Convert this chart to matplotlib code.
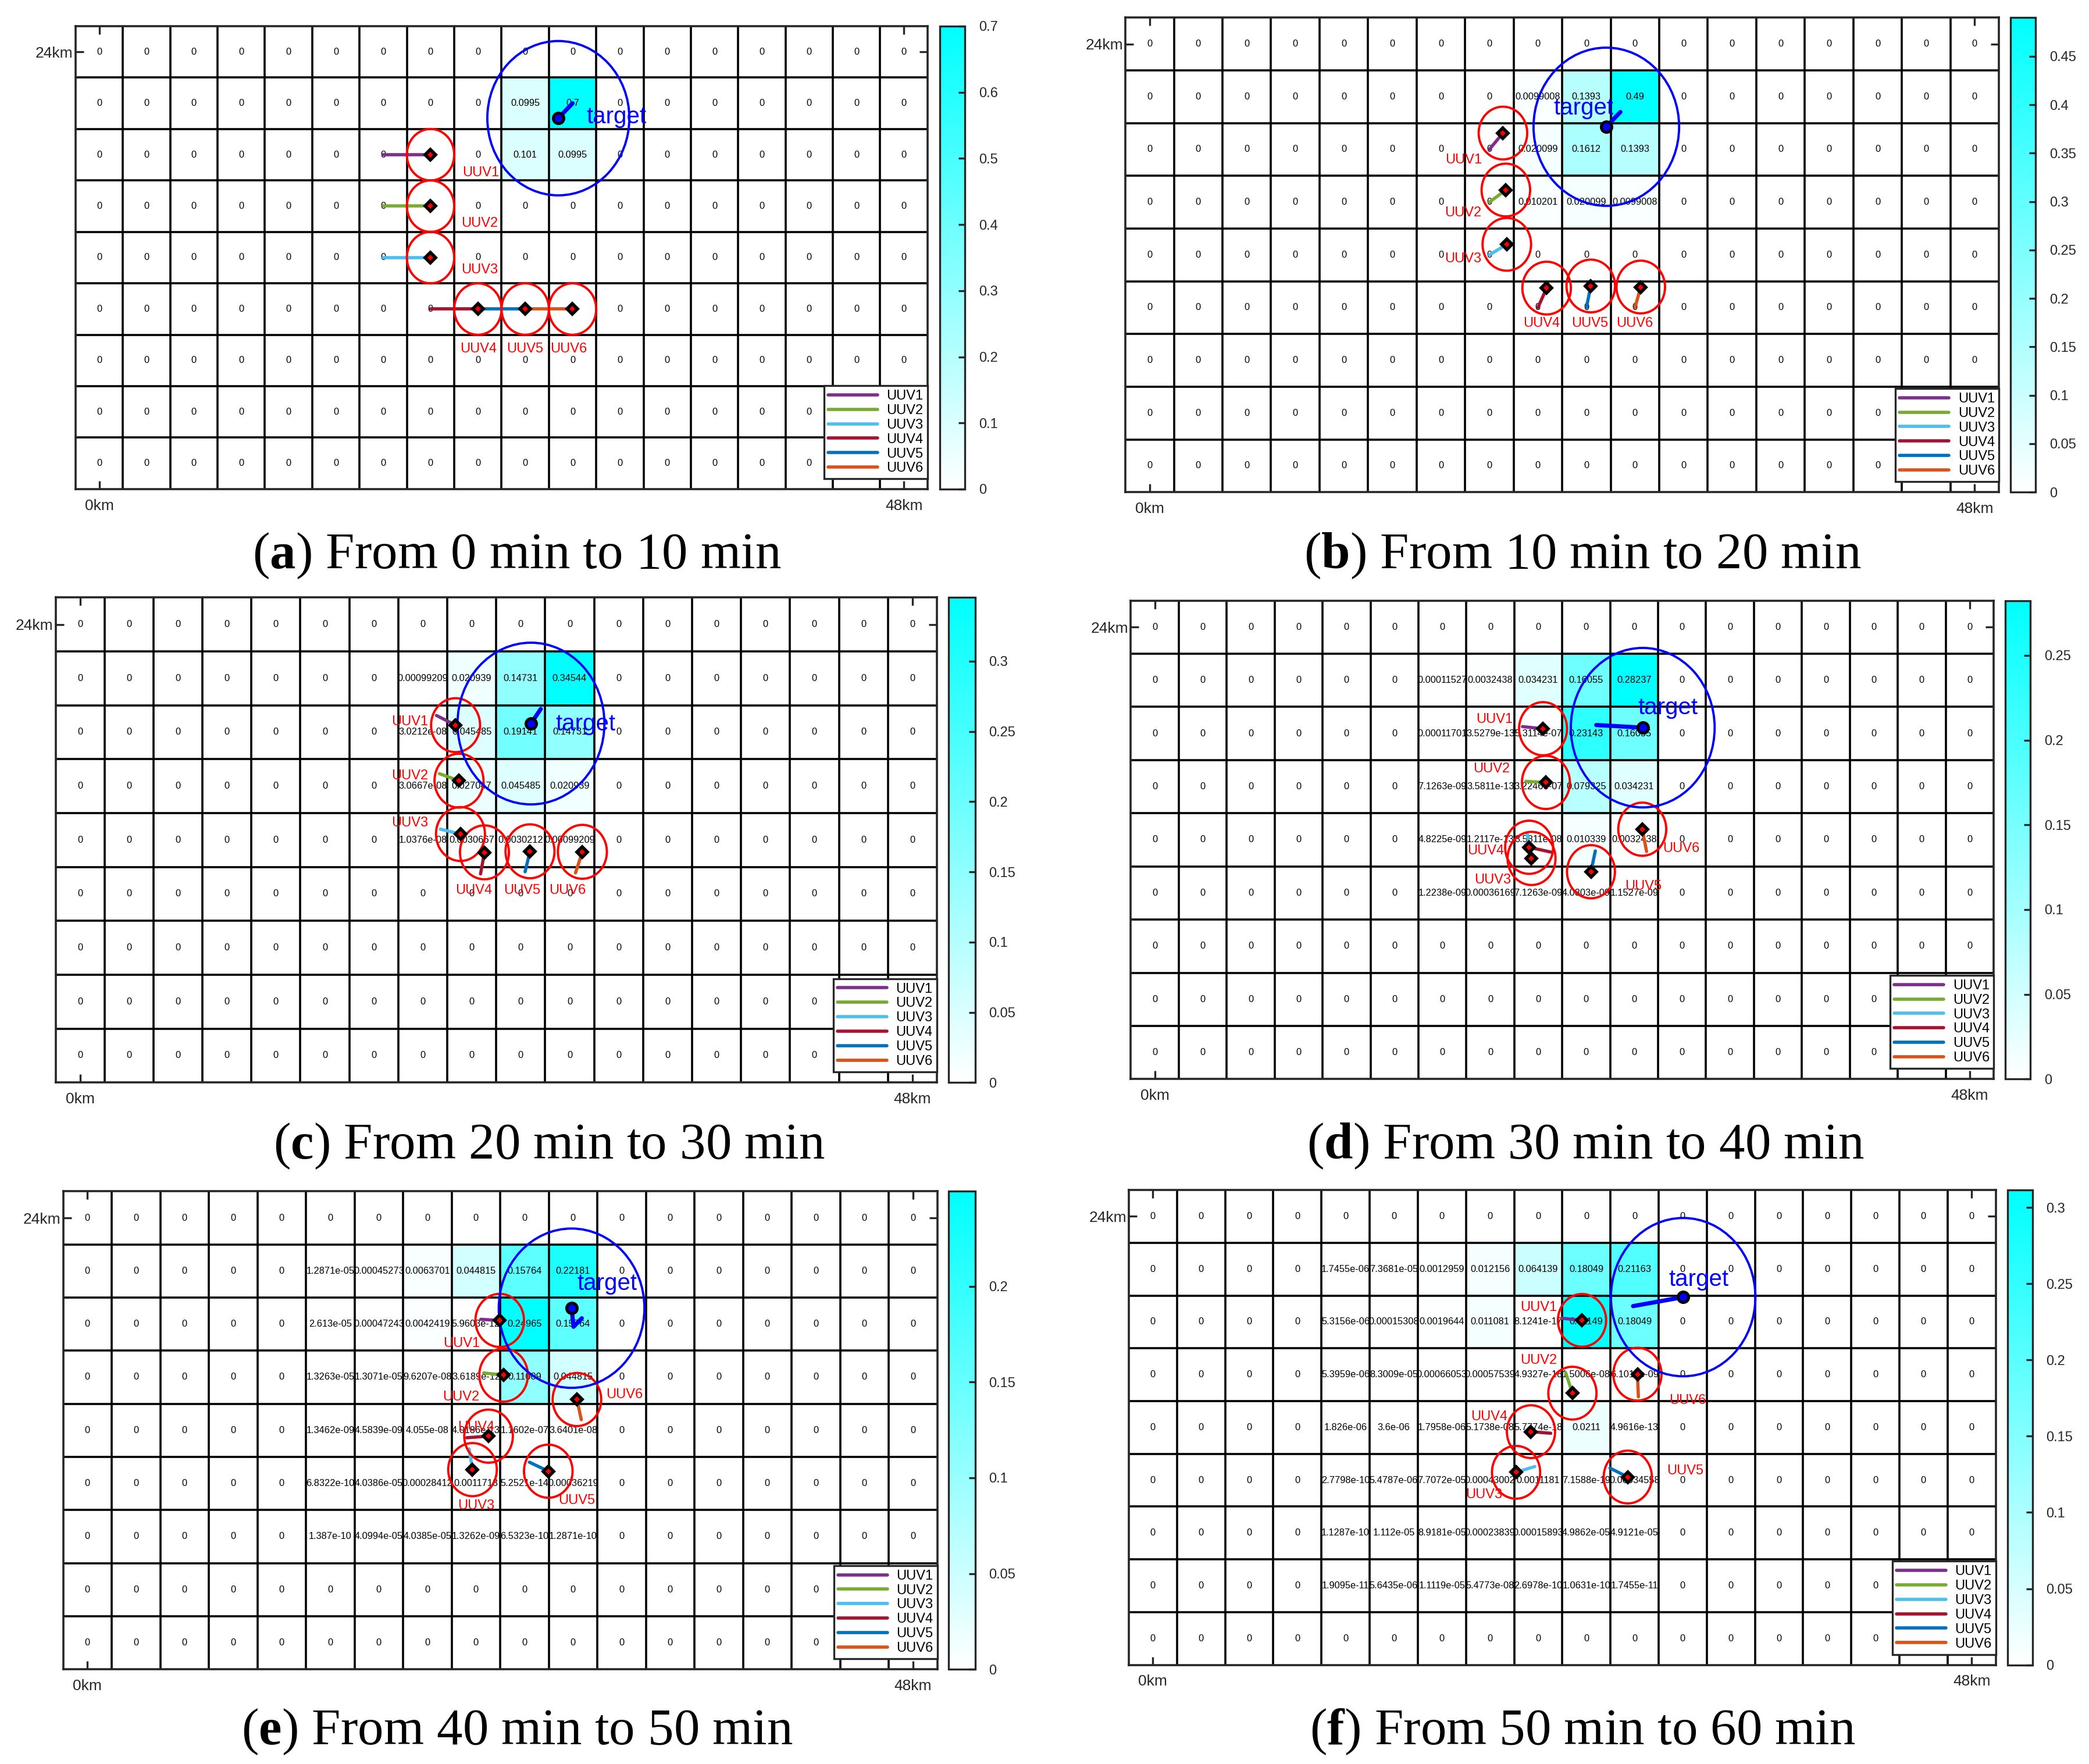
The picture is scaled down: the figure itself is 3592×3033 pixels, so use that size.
"""Cooperative UUV search: probability maps, six 10-minute steps."""

import numpy as np
import matplotlib
matplotlib.use('Agg')
import matplotlib.pyplot as plt
import matplotlib as mpl
from matplotlib.colors import LinearSegmentedColormap
from matplotlib.patches import Ellipse
from matplotlib.lines import Line2D
from matplotlib.ticker import FuncFormatter

mpl.rcParams['font.family'] = 'Liberation Sans'
mpl.rcParams['mathtext.fontset'] = 'custom'
mpl.rcParams['mathtext.rm'] = 'Liberation Serif'
mpl.rcParams['mathtext.bf'] = 'Liberation Serif:bold'

N_ROWS, N_COLS = 9, 18

uuv_names = ['UUV1', 'UUV2', 'UUV3', 'UUV4', 'UUV5', 'UUV6']
uuv_colors = ['#7E2F8E', '#77AC30', '#4DBEEE', '#A2142F', '#0072BD', '#D95319']

captions = ['From 0 min to 10 min', 'From 10 min to 20 min',
            'From 20 min to 30 min', 'From 30 min to 40 min',
            'From 40 min to 50 min', 'From 50 min to 60 min']
letters = ['a', 'b', 'c', 'd', 'e', 'f']

# non-zero probability cells as printed; block top-left is (row, col)
block_start = [(1, 9), (1, 8), (1, 7), (1, 6), (1, 5), (1, 4)]
cells_a = [['0.0995', '0.7'],
           ['0.101', '0.0995']]
cells_b = [['0.0099008', '0.1393', '0.49'],
           ['0.020099', '0.1612', '0.1393'],
           ['0.010201', '0.020099', '0.0099008']]
cells_c = [['0.00099209', '0.020939', '0.14731', '0.34544'],
           ['3.0212e-08', '0.045485', '0.19141', '0.14731'],
           ['3.0667e-08', '0.027047', '0.045485', '0.020939'],
           ['1.0376e-08', '0.0030667', '0.0030212', '0.00099209']]
cells_d = [['0.00011527', '0.0032438', '0.034231', '0.16055', '0.28237'],
           ['0.00011701', '3.5279e-13', '5.3114e-07', '0.23143', '0.16055'],
           ['7.1263e-09', '3.5811e-13', '3.2246e-07', '0.079325', '0.034231'],
           ['4.8225e-09', '1.2117e-13', '3.5811e-08', '0.010339', '0.0032438'],
           ['1.2238e-09', '0.00036169', '7.1263e-09', '4.0803e-09', '1.1527e-09']]
cells_e = [['1.2871e-05', '0.00045273', '0.0063701', '0.044815', '0.15764', '0.22181'],
           ['2.613e-05', '0.00047243', '0.0042419', '5.9603e-12', '0.24965', '0.15764'],
           ['1.3263e-05', '1.3071e-05', '9.6207e-08', '3.6189e-12', '0.11009', '0.044815'],
           ['1.3462e-09', '4.5839e-09', '4.055e-08', '4.0186e-13', '1.1602e-07', '3.6401e-08'],
           ['6.8322e-10', '4.0386e-05', '0.00028412', '0.0011713', '5.2521e-14', '0.00036219'],
           ['1.387e-10', '4.0994e-05', '4.0385e-05', '1.3262e-09', '6.5323e-10', '1.2871e-10']]
cells_f = [['1.7455e-06', '7.3681e-05', '0.0012959', '0.012156', '0.064139', '0.18049', '0.21163'],
           ['5.3156e-06', '0.00015308', '0.0019644', '0.011081', '8.1241e-17', '0.31149', '0.18049'],
           ['5.3959e-06', '8.3009e-05', '0.00066053', '0.00057539', '4.9327e-18', '1.5006e-08', '6.1014e-09'],
           ['1.826e-06', '3.6e-06', '1.7958e-06', '5.1738e-08', '5.7774e-18', '0.0211', '4.9616e-13'],
           ['2.7798e-10', '5.4787e-06', '7.7072e-05', '0.00043002', '0.0011181', '7.1588e-19', '0.00034558'],
           ['1.1287e-10', '1.112e-05', '8.9181e-05', '0.00023839', '0.00015893', '4.9862e-05', '4.9121e-05'],
           ['1.9095e-11', '5.6435e-06', '1.1119e-05', '5.4773e-08', '2.6978e-10', '1.0631e-10', '1.7455e-11']]
all_cells = [cells_a, cells_b, cells_c, cells_d, cells_e, cells_f]

# positions in cell units (x to the right, y downward), one point every 10 min
uuv1_track = [(6.5, 2.5), (7.5, 2.5), (7.78, 2.19), (8.17, 2.37), (8.60, 2.41), (8.99, 2.43), (9.41, 2.47)]
uuv2_track = [(6.5, 3.5), (7.5, 3.5), (7.84, 3.27), (8.24, 3.40), (8.66, 3.42), (9.07, 3.46), (9.21, 3.85)]
uuv3_track = [(6.5, 4.5), (7.5, 4.5), (7.86, 4.30), (8.27, 4.39), (8.36, 4.85), (8.43, 5.24), (8.04, 5.35)]
uuv4_track = [(7.5, 5.5), (8.5, 5.5), (8.68, 5.13), (8.76, 4.73), (8.31, 4.64), (8.76, 4.61), (8.35, 4.58)]
uuv5_track = [(8.5, 5.5), (9.5, 5.5), (9.59, 5.09), (9.69, 4.71), (9.60, 5.10), (9.99, 5.27), (10.36, 5.44)]
uuv6_track = [(9.5, 5.5), (10.5, 5.5), (10.62, 5.11), (10.76, 4.72), (10.67, 4.30), (10.58, 3.92), (10.56, 3.49)]
uuv_tracks = [uuv1_track, uuv2_track, uuv3_track, uuv4_track, uuv5_track, uuv6_track]
target_track = [(10.5, 1.5), (10.2, 1.79), (9.91, 2.07), (9.71, 2.34), (10.68, 2.39), (10.47, 2.20), (11.51, 2.03)]
target_via = {4: [(10.51, 2.55)]}

# annotation positions (cell units)
uuv_label_pos = [
    [(8.56, 2.85), (8.54, 3.83), (8.54, 4.74), (8.51, 6.28), (9.50, 6.28), (10.42, 6.28)],
    [(6.97, 2.70), (6.96, 3.70), (6.96, 4.58), (8.58, 5.80), (9.57, 5.80), (10.49, 5.80)],
    [(7.24, 2.31), (7.23, 3.31), (7.23, 4.19), (8.54, 5.44), (9.53, 5.44), (10.46, 5.44)],
    [(7.59, 2.23), (7.53, 3.17), (7.55, 5.26), (7.41, 4.71), (10.69, 5.38), (11.48, 4.66)],
    [(8.20, 2.87), (8.19, 3.87), (8.50, 5.92), (8.50, 4.44), (10.58, 5.82), (11.56, 3.83)],
    [(8.51, 2.23), (8.51, 3.23), (7.38, 5.77), (7.48, 4.30), (11.55, 5.32), (11.60, 3.99)],
]
target_label_pos = [(11.43, 1.76), (9.44, 1.72), (10.82, 2.35), (11.20, 2.02), (11.20, 1.74), (11.83, 1.70)]

# layout in pixels of a 1568 x 1324 canvas: (x0, x1, y0, y1)
W, H = 1568.0, 1324.0
ax_boxes = [(56.7, 696.2, 19.6, 367.1), (844.7, 1500.4, 13.2, 369.4),
            (41.7, 703.2, 448.4, 812.5), (848.8, 1496.4, 450.8, 809.9),
            (47.4, 703.5, 894.2, 1252.9), (847.3, 1498.0, 893.2, 1249.6)]
cb_boxes = [(705.4, 724.3), (1509.0, 1528.0), (712.0, 732.0),
            (1505.0, 1524.0), (712.0, 732.0), (1506.7, 1525.6)]
cb_steps = [0.1, 0.05, 0.05, 0.05, 0.05, 0.05]
cap_pos = [(388, 417), (1188, 417), (412, 860), (1190, 860), (388, 1300), (1188, 1300)]

cmap = LinearSegmentedColormap.from_list('wc', ['#FFFFFF', '#00FFFF'])
EDGE = '#262626'


def rect(x0, x1, y0, y1):
    return [x0 / W, 1 - y1 / H, (x1 - x0) / W, (y1 - y0) / H]


def draw_panel(fig, k):
    x0, x1, y0, y1 = ax_boxes[k]
    ax = fig.add_axes(rect(x0, x1, y0, y1))

    # probability matrix
    labels = [['0'] * N_COLS for _ in range(N_ROWS)]
    r0, c0 = block_start[k]
    for i, row in enumerate(all_cells[k]):
        for j, s in enumerate(row):
            labels[r0 + i][c0 + j] = s
    prob = np.array([[float(s) for s in row] for row in labels])
    vmax = prob.max()
    im = ax.imshow(prob, cmap=cmap, vmin=0, vmax=vmax, extent=(0, N_COLS, N_ROWS, 0),
                   aspect='auto', interpolation='nearest', zorder=0)
    for r in range(N_ROWS):
        for c in range(N_COLS):
            ax.text(c + 0.5, r + 0.5, labels[r][c], ha='center', va='center',
                    fontsize=5.9, color='black', zorder=1)
    for c in range(1, N_COLS):
        ax.axvline(c, color='black', lw=1.3, zorder=2)
    for r in range(1, N_ROWS):
        ax.axhline(r, color='black', lw=1.3, zorder=2)

    # UUV moves
    for u in range(6):
        (px, py), (cx, cy) = uuv_tracks[u][k], uuv_tracks[u][k + 1]
        ax.plot([px, cx], [py, cy], color=uuv_colors[u], lw=2.0,
                solid_capstyle='round', zorder=3)
        ax.add_patch(Ellipse((cx, cy), 1.0, 1.0, fill=False, ec='red', lw=1.4, zorder=4))
        ax.plot(cx, cy, marker='D', ms=4.6, mfc='red', mec='black', mew=2.0, zorder=5)
        lx, ly = uuv_label_pos[k][u]
        ax.text(lx, ly, uuv_names[u], color='red', fontsize=8.5, ha='center',
                va='center', zorder=6)

    # target
    pts = [target_track[k]] + target_via.get(k, []) + [target_track[k + 1]]
    ax.plot([p[0] for p in pts], [p[1] for p in pts], color='blue', lw=2.6,
            solid_capstyle='round', solid_joinstyle='round', zorder=3)
    tx, ty = target_track[k + 1]
    ax.add_patch(Ellipse((tx, ty), 3.0, 3.0, fill=False, ec='blue', lw=1.4, zorder=4))
    ax.plot(tx, ty, marker='o', ms=6.5, mfc='blue', mec='black', mew=1.8, zorder=5)
    lx, ly = target_label_pos[k]
    ax.text(lx, ly, 'target', color='blue', fontsize=14.5, ha='center', va='center', zorder=6)

    ax.set_xlim(0, N_COLS)
    ax.set_ylim(N_ROWS, 0)
    ax.set_xticks([0.5, N_COLS - 0.5])
    ax.set_xticklabels(['0km', '48km'])
    ax.set_yticks([0.5])
    ax.set_yticklabels(['24km'])
    ax.tick_params(axis='both', direction='in', top=True, right=True, length=5,
                   width=1.2, colors=EDGE, labelsize=9.5)
    ax.tick_params(axis='x', pad=6)
    ax.tick_params(axis='y', pad=1.5)
    for sp in ax.spines.values():
        sp.set_linewidth(1.3)
        sp.set_color(EDGE)

    handles = [Line2D([0], [0], color=c, lw=2.0, solid_capstyle='round') for c in uuv_colors]
    leg = ax.legend(handles, uuv_names, loc='lower right', bbox_to_anchor=(1.0, 0.022),
                    fontsize=8.5, handlelength=3.6, handletextpad=0.65, labelspacing=0.12,
                    borderpad=0.3, borderaxespad=0, fancybox=False, framealpha=1,
                    edgecolor=EDGE)
    leg.get_frame().set_linewidth(1.2)
    leg.set_zorder(10)

    # colorbar
    cbx0, cbx1 = cb_boxes[k]
    cax = fig.add_axes(rect(cbx0, cbx1, y0, y1))
    cb = fig.colorbar(im, cax=cax)
    cb.set_ticks(np.arange(0, vmax + 1e-9, cb_steps[k]))
    cb.ax.yaxis.set_major_formatter(FuncFormatter(lambda v, _: '%g' % round(v, 4)))
    cb.ax.tick_params(direction='in', length=4, width=1.2, colors=EDGE,
                      labelsize=8.5, pad=8.5)
    cb.outline.set_linewidth(1.2)
    cb.outline.set_edgecolor(EDGE)

    cx, cy = cap_pos[k]
    fig.text(cx / W, 1 - cy / H, r'($\mathbf{%s}$) %s' % (letters[k], captions[k]),
             family='Liberation Serif', fontsize=32, ha='center', va='center')


fig = plt.figure(figsize=(3592 / 200, 3033 / 200), dpi=200)
for k in range(6):
    draw_panel(fig, k)
fig.savefig('out.png', dpi=200)
